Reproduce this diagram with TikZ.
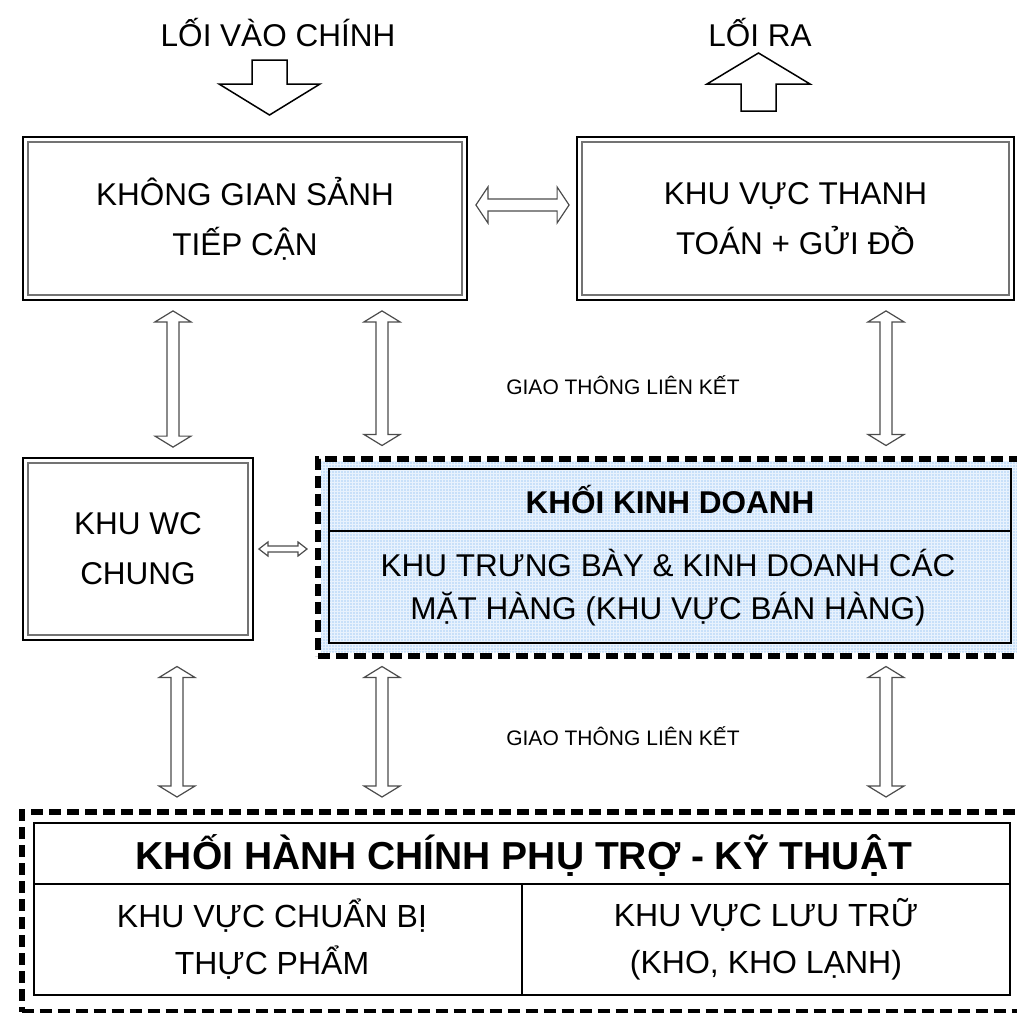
\documentclass[tikz,border=0pt]{standalone}
\usepackage{fontspec}
\setmainfont{Liberation Sans}
\usetikzlibrary{calc,patterns.meta}
\definecolor{dotblue}{RGB}{95,165,240}
\definecolor{paleblue}{RGB}{232,242,253}
\newcommand\VDA[5]{\draw[arr] let \p1=#1,\p2=#2 in
 (\x1,\y1) -- (\x1+#3,\y1-#5) -- (\x1+#4,\y1-#5) -- (\x1+#4,\y2+#5) -- (\x1+#3,\y2+#5) -- (\x1,\y2)
 -- (\x1-#3,\y2+#5) -- (\x1-#4,\y2+#5) -- (\x1-#4,\y1-#5) -- (\x1-#3,\y1-#5) -- cycle;}
\newcommand\HDA[5]{\draw[arr] let \p1=#1,\p2=#2 in
 (\x1,\y1) -- (\x1+#5,\y1+#3) -- (\x1+#5,\y1+#4) -- (\x2-#5,\y1+#4) -- (\x2-#5,\y1+#3) -- (\x2,\y1)
 -- (\x2-#5,\y1-#3) -- (\x2-#5,\y1-#4) -- (\x1+#5,\y1-#4) -- (\x1+#5,\y1-#3) -- cycle;}
\begin{document}
\begin{tikzpicture}[x=1pt,y=-1pt,
 box/.style={draw=black,line width=1.8pt,inner sep=0pt,align=center,font=\fontsize{31.5}{50}\selectfont},
 innerline/.style={draw=black!55,line width=2pt},
 arr/.style={draw=black!70,line width=1.2pt,fill=white,line join=miter},
 bigarr/.style={draw=black,line width=1.5pt,fill=white,line join=miter},
 dashborder/.style={draw=black,line width=6pt,dash pattern=on 12pt off 6pt,inner sep=0pt},
 txt/.style={align=center,inner sep=0pt},
 big/.style={font=\fontsize{31.5}{44}\selectfont},
 bigb/.style={font=\fontsize{31.5}{44}\selectfont\bfseries},
 small/.style={font=\fontsize{21}{24}\selectfont},
]
\useasboundingbox (0,0) rectangle (1017,1012);
\clip (0,0) rectangle (1017,1012);

% top labels and block arrows
\node[txt,big] (in) at (278,33) {LỐI VÀO CHÍNH};
\node[txt,big] (out) at (760,33) {LỐI RA};
\draw[bigarr] (252,60) -- (287,60) -- (287,84) -- (320,84) -- (269.5,115) -- (219,84) -- (252,84) -- cycle;
\draw[bigarr] (741,111) -- (776,111) -- (776,84) -- (810,84) -- (758.5,53) -- (707,84) -- (741,84) -- cycle;

% top boxes
\node[box,minimum width=444pt,minimum height=163pt] (A) at (245,218.5) {KHÔNG GIAN SẢNH\\TIẾP CẬN};
\draw[innerline] ($(A.north west)+(6,6)$) rectangle ($(A.south east)+(-6,-6)$);
\node[box,minimum width=437pt,minimum height=163pt] (B) at (795.5,218.5) {KHU VỰC THANH\\TOÁN + GỬI ĐỒ};
\draw[innerline] ($(B.north west)+(6,6)$) rectangle ($(B.south east)+(-6,-6)$);

% WC box
\node[box,minimum width=230pt,minimum height=182pt] (WC) at (138,549) {KHU WC\\CHUNG};
\draw[innerline] ($(WC.north west)+(6,6)$) rectangle ($(WC.south east)+(-6,-6)$);

% sales block
\fill[paleblue] (321,461) rectangle (1030,652);
\fill[pattern={Dots[distance=3pt,radius=0.55pt]},pattern color=dotblue] (321,461) rectangle (1030,652);
\node[dashborder,minimum width=712pt,minimum height=197pt] (SD) at (674,557) {};
\node[draw=black,line width=1.5pt,inner sep=0pt,minimum width=682pt,minimum height=174pt] (S) at (670,556) {};
\draw[black,line width=1.5pt] (S.west |- 0,531) -- (S.east |- 0,531);
\node[txt,bigb] (St) at (670,500) {KHỐI KINH DOANH};
\node[txt,font=\fontsize{31.5}{43}\selectfont] (Sb) at (668,588) {KHU TRƯNG BÀY \& KINH DOANH CÁC\\MẶT HÀNG (KHU VỰC BÁN HÀNG)};

% bottom block
\node[dashborder,minimum width=1008.5pt,minimum height=200pt] (HD) at (525.75,912) {};
\node[draw=black,line width=1.5pt,inner sep=0pt,minimum width=976pt,minimum height=172pt,fill=white] (H) at (522,909) {};
\draw[black,line width=1.5pt] (H.west |- 0,884) -- (H.east |- 0,884);
\draw[black,line width=1.5pt] (522,884) -- (H.south -| 522,0);
\node[txt,font=\fontsize{39}{44}\selectfont\bfseries] (Ht) at (524,855) {KHỐI HÀNH CHÍNH PHỤ TRỢ - KỸ THUẬT};
\node[txt,font=\fontsize{32}{47}\selectfont] (H1) at (272,939) {KHU VỰC CHUẨN BỊ\\THỰC PHẨM};
\node[txt,font=\fontsize{32}{47}\selectfont] (H2) at (766,939) {KHU VỰC LƯU TRỮ\\(KHO, KHO LẠNH)};

% connectors
\HDA{($(A.east |- 0,205)+(8,0)$)}{($(B.west |- 0,205)+(-7,0)$)}{18pt}{6pt}{12pt}
\VDA{($(173,0 |- A.south)+(0,10)$)}{($(173,0 |- WC.north)+(0,-10)$)}{18pt}{6pt}{11pt}
\VDA{($(382,0 |- A.south)+(0,10)$)}{($(382,0 |- SD.north)+(0,-10)$)}{18pt}{6pt}{11pt}
\VDA{($(886,0 |- B.south)+(0,10)$)}{($(886,0 |- SD.north)+(0,-10)$)}{18pt}{6pt}{11pt}
\HDA{($(WC.east)+(5,0)$)}{($(SD.west |- WC.east)+(-8,0)$)}{7pt}{3pt}{9pt}
\VDA{($(177,0 |- SD.south)+(0,8)$)}{($(177,0 |- HD.north)+(0,-12)$)}{18pt}{6pt}{11pt}
\VDA{($(382,0 |- SD.south)+(0,8)$)}{($(382,0 |- HD.north)+(0,-12)$)}{18pt}{6pt}{11pt}
\VDA{($(886,0 |- SD.south)+(0,8)$)}{($(886,0 |- HD.north)+(0,-12)$)}{18pt}{6pt}{11pt}

\node[txt,small] (g1) at (623,385) {GIAO THÔNG LIÊN KẾT};
\node[txt,small] (g2) at (623,736) {GIAO THÔNG LIÊN KẾT};
\end{tikzpicture}
\end{document}
